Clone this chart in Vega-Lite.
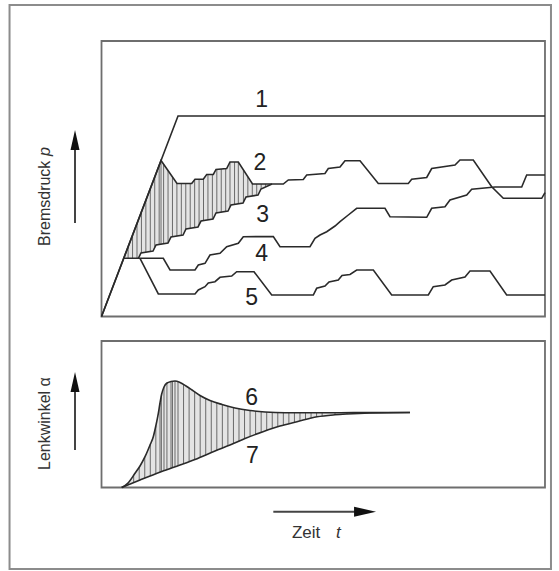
{
 "$schema": "https://vega.github.io/schema/vega-lite/v6.json",
 "width": 559, "height": 571,
 "autosize": {"type": "fit", "contains": "padding"},
 "padding": 0,
 "background": "white",
 "config": {"view": {"stroke": null}, "font": "Liberation Sans"},
 "datasets": {
  "topLines": [
   {"s":"1","t":0,"p":0},{"s":"1","t":17.25,"p":72.78},{"s":"1","t":100,"p":72.78},
   {"s":"2","t":0,"p":0},{"s":"2","t":13.42,"p":56.62},{"s":"2","t":17.02,"p":48.28},{"s":"2","t":20.34,"p":48.28},{"s":"2","t":21.08,"p":49.8},{"s":"2","t":22.95,"p":49.8},{"s":"2","t":23.72,"p":51.54},{"s":"2","t":25.21,"p":51.54},{"s":"2","t":25.82,"p":53.36},{"s":"2","t":28.23,"p":53.72},{"s":"2","t":28.97,"p":56.08},{"s":"2","t":30.85,"p":56.08},{"s":"2","t":34.05,"p":48.09},{"s":"2","t":40.99,"p":48.09},{"s":"2","t":42.12,"p":49.55},{"s":"2","t":45.5,"p":49.73},{"s":"2","t":46.27,"p":51.36},{"s":"2","t":50.39,"p":51.91},{"s":"2","t":51.14,"p":53.72},{"s":"2","t":53.78,"p":54.26},{"s":"2","t":54.9,"p":56.55},{"s":"2","t":58.29,"p":56.55},{"s":"2","t":62.41,"p":48.28},{"s":"2","t":69.18,"p":48.28},{"s":"2","t":69.94,"p":49.8},{"s":"2","t":73.33,"p":50.45},{"s":"2","t":74.45,"p":53.72},{"s":"2","t":79.71,"p":54.99},{"s":"2","t":80.83,"p":56.81},{"s":"2","t":83.83,"p":56.81},{"s":"2","t":87.98,"p":47.11},{"s":"2","t":90.6,"p":42.9},{"s":"2","t":99.26,"p":42.9},{"s":"2","t":100,"p":44.94},
   {"s":"3","t":8.3,"p":21.13},{"s":"3","t":8.91,"p":23.05},{"s":"3","t":11.61,"p":23.77},{"s":"3","t":12.29,"p":25.95},{"s":"3","t":14.99,"p":26.68},{"s":"3","t":15.67,"p":28.86},{"s":"3","t":18.38,"p":29.58},{"s":"3","t":19.05,"p":31.76},{"s":"3","t":21.76,"p":32.49},{"s":"3","t":22.44,"p":34.66},{"s":"3","t":25.14,"p":35.39},{"s":"3","t":25.82,"p":37.57},{"s":"3","t":28.52,"p":38.29},{"s":"3","t":29.2,"p":40.47},{"s":"3","t":31.91,"p":41.2},{"s":"3","t":32.58,"p":43.38},{"s":"3","t":35.29,"p":44.1},{"s":"3","t":35.96,"p":46.28},{"s":"3","t":38.44,"p":48.09},
   {"s":"4","t":5.01,"p":21.13},{"s":"4","t":13.93,"p":21.13},{"s":"4","t":15.45,"p":16.88},{"s":"4","t":21.08,"p":16.88},{"s":"4","t":21.83,"p":18.69},{"s":"4","t":23.34,"p":19.31},{"s":"4","t":24.46,"p":22.32},{"s":"4","t":26.72,"p":22.94},{"s":"4","t":28.23,"p":25.34},{"s":"4","t":30.85,"p":26.57},{"s":"4","t":31.97,"p":28.97},{"s":"4","t":38.74,"p":29.04},{"s":"4","t":40.25,"p":25.34},{"s":"4","t":47.01,"p":25.34},{"s":"4","t":48.14,"p":28.38},{"s":"4","t":49.27,"p":29.58},{"s":"4","t":50.78,"p":30.78},{"s":"4","t":52.65,"p":32.85},{"s":"4","t":53.78,"p":34.41},{"s":"4","t":55.65,"p":36.84},{"s":"4","t":57.54,"p":39.27},{"s":"4","t":63.92,"p":39.27},{"s":"4","t":65.05,"p":36.23},{"s":"4","t":73.33,"p":36.01},{"s":"4","t":74.45,"p":39.27},{"s":"4","t":77.45,"p":39.85},{"s":"4","t":78.58,"p":42.29},{"s":"4","t":82.35,"p":44.1},{"s":"4","t":83.47,"p":46.17},{"s":"4","t":88.73,"p":47.01},{"s":"4","t":94.75,"p":47.01},{"s":"4","t":95.87,"p":51.36},{"s":"4","t":100,"p":51.36},
   {"s":"5","t":8.68,"p":21.13},{"s":"5","t":12.81,"p":8.17},{"s":"5","t":21.08,"p":8.17},{"s":"5","t":21.83,"p":9.62},{"s":"5","t":23.34,"p":10.82},{"s":"5","t":24.08,"p":12.16},{"s":"5","t":25.59,"p":12.63},{"s":"5","t":26.72,"p":14.23},{"s":"5","t":29.36,"p":14.7},{"s":"5","t":30.48,"p":16.26},{"s":"5","t":34.39,"p":16.26},{"s":"5","t":38.38,"p":7.8},{"s":"5","t":47.76,"p":7.8},{"s":"5","t":48.52,"p":10.24},{"s":"5","t":50.39,"p":11.07},{"s":"5","t":51.3,"p":12.52},{"s":"5","t":53.39,"p":13.25},{"s":"5","t":54.23,"p":14.88},{"s":"5","t":56.03,"p":15.25},{"s":"5","t":57.54,"p":16.88},{"s":"5","t":61.29,"p":16.88},{"s":"5","t":65.43,"p":7.8},{"s":"5","t":73.69,"p":7.8},{"s":"5","t":74.81,"p":10.82},{"s":"5","t":77.45,"p":11.43},{"s":"5","t":78.96,"p":13.25},{"s":"5","t":81.96,"p":14.34},{"s":"5","t":83.09,"p":16.52},{"s":"5","t":87.6,"p":16.52},{"s":"5","t":91.36,"p":7.8},{"s":"5","t":100,"p":7.8}
  ],
  "topHatch": [
   {"t":5.01,"lo":21.13,"hi":21.13},{"t":6,"lo":21.13,"hi":25.31},{"t":7,"lo":21.13,"hi":29.53},{"t":8,"lo":21.13,"hi":33.75},{"t":9,"lo":23.07,"hi":37.97},{"t":10,"lo":23.34,"hi":42.19},{"t":11,"lo":23.61,"hi":46.41},{"t":12,"lo":25.02,"hi":50.63},{"t":13,"lo":26.14,"hi":54.85},{"t":13.42,"lo":26.25,"hi":56.62},{"t":14,"lo":26.41,"hi":55.28},{"t":15,"lo":26.71,"hi":52.96},{"t":16,"lo":28.95,"hi":50.64},{"t":17,"lo":29.22,"hi":48.33},{"t":18,"lo":29.48,"hi":48.28},{"t":19,"lo":31.6,"hi":48.28},{"t":20,"lo":32.02,"hi":48.28},{"t":21,"lo":32.29,"hi":49.64},{"t":22,"lo":33.26,"hi":49.8},{"t":23,"lo":34.81,"hi":49.91},{"t":24,"lo":35.09,"hi":51.54},{"t":25,"lo":35.35,"hi":51.54},{"t":26,"lo":37.62,"hi":53.39},{"t":27,"lo":37.88,"hi":53.54},{"t":28,"lo":38.15,"hi":53.69},{"t":28.97,"lo":39.73,"hi":56.08},{"t":30,"lo":40.69,"hi":56.08},{"t":30.85,"lo":40.91,"hi":56.08},{"t":32,"lo":41.49,"hi":53.21},{"t":33,"lo":43.49,"hi":50.71},{"t":34,"lo":43.76,"hi":48.21},{"t":35,"lo":44.02,"hi":48.09},{"t":36,"lo":46.31,"hi":48.09},{"t":37,"lo":47.04,"hi":48.09},{"t":38,"lo":47.77,"hi":48.09},{"t":38.44,"lo":48.09,"hi":48.09}
  ],
  "topLabels": [
   {"n":"1","t":36.12,"p":78.58},{"n":"2","t":35.74,"p":55.7},{"n":"3","t":36.35,"p":36.84},{"n":"4","t":36.12,"p":22.69},{"n":"5","t":33.87,"p":6.72}
  ],
  "botLines": [
   {"s":"6","t":4.55,"a":0},{"s":"6","t":5.98,"a":3.07},{"s":"6","t":7.55,"a":9.69},{"s":"6","t":8.68,"a":14.68},{"s":"6","t":9.81,"a":21.02},{"s":"6","t":10.94,"a":29.01},{"s":"6","t":11.68,"a":34.68},{"s":"6","t":12.29,"a":42.66},{"s":"6","t":12.81,"a":50.65},{"s":"6","t":13.19,"a":57.68},{"s":"6","t":13.57,"a":63.82},{"s":"6","t":14.09,"a":68.6},{"s":"6","t":14.77,"a":71.33},{"s":"6","t":15.67,"a":72.35},{"s":"6","t":16.57,"a":72.7},{"s":"6","t":17.7,"a":71.67},{"s":"6","t":19.05,"a":69.28},{"s":"6","t":20.41,"a":66.55},{"s":"6","t":22.21,"a":62.8},{"s":"6","t":24.46,"a":59.39},{"s":"6","t":27.17,"a":56.66},{"s":"6","t":30.1,"a":54.27},{"s":"6","t":33.48,"a":52.56},{"s":"6","t":36.87,"a":51.54},{"s":"6","t":41.38,"a":51.0},{"s":"6","t":47.01,"a":51.0},{"s":"6","t":53.78,"a":51.05},{"s":"6","t":60.54,"a":51.1},{"s":"6","t":69.56,"a":51.19},
   {"s":"7","t":4.55,"a":0},{"s":"7","t":8.68,"a":5.12},{"s":"7","t":13.57,"a":10.92},{"s":"7","t":17.7,"a":15.36},{"s":"7","t":21.08,"a":19.11},{"s":"7","t":25.59,"a":24.91},{"s":"7","t":28.97,"a":29.01},{"s":"7","t":32.36,"a":33.45},{"s":"7","t":36.41,"a":38.09},{"s":"7","t":40.25,"a":41.98},{"s":"7","t":44.08,"a":44.92},{"s":"7","t":48.59,"a":48.26},{"s":"7","t":52.65,"a":49.62},{"s":"7","t":55.36,"a":50.17},{"s":"7","t":60.54,"a":50.85},{"s":"7","t":69.56,"a":51.19}
  ],
  "botHatch": [
   {"t":4.55,"lo":0,"hi":0},{"t":6,"lo":1.8,"hi":3.15},{"t":7.25,"lo":3.35,"hi":8.42},{"t":8.5,"lo":4.9,"hi":13.88},{"t":9.75,"lo":6.39,"hi":20.68},{"t":11,"lo":7.87,"hi":29.47},{"t":12.25,"lo":9.36,"hi":42.14},{"t":13.19,"lo":10.47,"hi":57.68},{"t":13.5,"lo":10.84,"hi":62.69},{"t":14.09,"lo":11.48,"hi":68.6},{"t":14.75,"lo":12.19,"hi":71.25},{"t":15.67,"lo":13.18,"hi":72.35},{"t":16,"lo":13.53,"hi":72.48},{"t":16.57,"lo":14.15,"hi":72.7},{"t":17.25,"lo":14.88,"hi":72.08},{"t":18.5,"lo":16.27,"hi":70.25},{"t":19.75,"lo":17.66,"hi":67.87},{"t":21,"lo":19.02,"hi":65.32},{"t":22.25,"lo":20.61,"hi":62.74},{"t":23.5,"lo":22.22,"hi":60.85},{"t":24.75,"lo":23.83,"hi":59.1},{"t":26,"lo":25.41,"hi":57.84},{"t":27.25,"lo":26.93,"hi":56.59},{"t":28.5,"lo":28.44,"hi":55.58},{"t":29.75,"lo":30.03,"hi":54.56},{"t":31,"lo":31.67,"hi":53.81},{"t":32.25,"lo":33.31,"hi":53.18},{"t":33.5,"lo":34.76,"hi":52.55},{"t":34.75,"lo":36.19,"hi":52.18},{"t":36,"lo":37.62,"hi":51.8},{"t":37.25,"lo":38.94,"hi":51.49},{"t":38.5,"lo":40.21,"hi":51.34},{"t":39.75,"lo":41.47,"hi":51.2},{"t":41,"lo":42.56,"hi":51.05},{"t":42.25,"lo":43.51,"hi":51.0},{"t":43.5,"lo":44.47,"hi":51.0},{"t":44.75,"lo":45.42,"hi":51.0},{"t":46,"lo":46.34,"hi":51.0},{"t":47.25,"lo":47.27,"hi":51.0},{"t":48.5,"lo":48.19,"hi":51.0},{"t":49.75,"lo":48.65,"hi":51.0},{"t":52.65,"lo":49.62,"hi":51.03},{"t":55.36,"lo":50.17,"hi":51.06}
  ],
  "botLabels": [
   {"n":"6","t":33.87,"a":61.4},{"n":"7","t":34.0,"a":21.5}
  ]
 },
 "resolve": {"scale": {"y": "independent"}},
 "layer": [
  {
   "layer": [
    {"data": {"values": [{}]},
     "mark": {"type": "rect", "fill": null, "stroke": "#8c8c8c", "strokeWidth": 2},
     "encoding": {
      "x": {"datum": -20.74, "type": "quantitative", "scale": {"domain": [-22.89, 103.16], "nice": false, "zero": false}, "axis": null},
      "x2": {"datum": 101.35},
      "y": {"datum": -91.65, "type": "quantitative", "scale": {"domain": [-92.38, 114.88], "nice": false, "zero": false}, "axis": null},
      "y2": {"datum": 113.07}}},
    {"data": {"values": [{}]},
     "mark": {"type": "rect", "fill": null, "stroke": "#6e6e6e", "strokeWidth": 1.8},
     "encoding": {
      "x": {"datum": 0, "type": "quantitative", "scale": {"domain": [-22.89, 103.16], "nice": false, "zero": false}, "axis": null},
      "x2": {"datum": 100},
      "y": {"datum": 0, "type": "quantitative", "scale": {"domain": [-92.38, 114.88], "nice": false, "zero": false}, "axis": null},
      "y2": {"datum": 100}}},
    {"data": {"name": "topHatch"},
     "mark": {"type": "area", "fill": "#e4e4e4"},
     "encoding": {
      "x": {"field": "t", "type": "quantitative", "scale": {"domain": [-22.89, 103.16], "nice": false, "zero": false}, "axis": null},
      "y": {"field": "lo", "type": "quantitative", "scale": {"domain": [-92.38, 114.88], "nice": false, "zero": false}, "axis": null},
      "y2": {"field": "hi"}}},
    {"data": {"name": "topHatch"},
     "mark": {"type": "rule", "stroke": "#6a6a6a", "strokeWidth": 1},
     "encoding": {
      "x": {"field": "t", "type": "quantitative", "scale": {"domain": [-22.89, 103.16], "nice": false, "zero": false}, "axis": null},
      "y": {"field": "lo", "type": "quantitative", "scale": {"domain": [-92.38, 114.88], "nice": false, "zero": false}, "axis": null},
      "y2": {"field": "hi"}}},
    {"data": {"name": "topLines"},
     "mark": {"type": "line", "stroke": "#2a2a2a", "strokeWidth": 1.6},
     "encoding": {
      "x": {"field": "t", "type": "quantitative", "scale": {"domain": [-22.89, 103.16], "nice": false, "zero": false}, "axis": null},
      "y": {"field": "p", "type": "quantitative", "scale": {"domain": [-92.38, 114.88], "nice": false, "zero": false}, "axis": null},
      "detail": {"field": "s"}}},
    {"data": {"name": "topLabels"},
     "mark": {"type": "text", "fontSize": 23, "fill": "#222", "align": "center", "baseline": "middle"},
     "encoding": {
      "x": {"field": "t", "type": "quantitative", "scale": {"domain": [-22.89, 103.16], "nice": false, "zero": false}, "axis": null},
      "y": {"field": "p", "type": "quantitative", "scale": {"domain": [-92.38, 114.88], "nice": false, "zero": false}, "axis": null},
      "text": {"field": "n"}}},
    {"data": {"values": [{}]},
     "mark": {"type": "text", "text": "Bremsdruck", "fontSize": 16, "fill": "#333", "angle": 270, "align": "left", "baseline": "middle"},
     "encoding": {
      "x": {"datum": -12.74, "type": "quantitative", "scale": {"domain": [-22.89, 103.16], "nice": false, "zero": false}, "axis": null},
      "y": {"datum": 25.59, "type": "quantitative", "scale": {"domain": [-92.38, 114.88], "nice": false, "zero": false}, "axis": null}}},
    {"data": {"values": [{}]},
     "mark": {"type": "text", "text": "p", "fontSize": 16, "fontStyle": "italic", "fill": "#333", "angle": 270, "align": "left", "baseline": "middle"},
     "encoding": {
      "x": {"datum": -12.74, "type": "quantitative", "scale": {"domain": [-22.89, 103.16], "nice": false, "zero": false}, "axis": null},
      "y": {"datum": 58.26, "type": "quantitative", "scale": {"domain": [-92.38, 114.88], "nice": false, "zero": false}, "axis": null}}},
    {"data": {"values": [{}]},
     "mark": {"type": "rule", "stroke": "#444", "strokeWidth": 2},
     "encoding": {
      "x": {"datum": -5.975, "type": "quantitative", "scale": {"domain": [-22.89, 103.16], "nice": false, "zero": false}, "axis": null},
      "y": {"datum": 33.94, "type": "quantitative", "scale": {"domain": [-92.38, 114.88], "nice": false, "zero": false}, "axis": null},
      "y2": {"datum": 62.5}}},
    {"data": {"values": [{}]},
     "mark": {"type": "point", "shape": "M0,-1L0.45,1L-0.45,1Z", "size": 400, "filled": true, "fill": "#111", "opacity": 1, "strokeWidth": 0},
     "encoding": {
      "x": {"datum": -5.975, "type": "quantitative", "scale": {"domain": [-22.89, 103.16], "nice": false, "zero": false}, "axis": null},
      "y": {"datum": 64.07, "type": "quantitative", "scale": {"domain": [-92.38, 114.88], "nice": false, "zero": false}, "axis": null}}}
   ]
  },
  {
   "layer": [
    {"data": {"values": [{}]},
     "mark": {"type": "rect", "fill": null, "stroke": "#6e6e6e", "strokeWidth": 1.8},
     "encoding": {
      "x": {"datum": 0, "type": "quantitative", "scale": {"domain": [-22.89, 103.16], "nice": false, "zero": false}, "axis": null},
      "x2": {"datum": 100},
      "y": {"datum": 0, "type": "quantitative", "scale": {"domain": [-57.0, 332.76], "nice": false, "zero": false}, "axis": null},
      "y2": {"datum": 100}}},
    {"data": {"name": "botHatch"},
     "mark": {"type": "area", "fill": "#e4e4e4"},
     "encoding": {
      "x": {"field": "t", "type": "quantitative", "scale": {"domain": [-22.89, 103.16], "nice": false, "zero": false}, "axis": null},
      "y": {"field": "lo", "type": "quantitative", "scale": {"domain": [-57.0, 332.76], "nice": false, "zero": false}, "axis": null},
      "y2": {"field": "hi"}}},
    {"data": {"name": "botHatch"},
     "mark": {"type": "rule", "stroke": "#6a6a6a", "strokeWidth": 1},
     "encoding": {
      "x": {"field": "t", "type": "quantitative", "scale": {"domain": [-22.89, 103.16], "nice": false, "zero": false}, "axis": null},
      "y": {"field": "lo", "type": "quantitative", "scale": {"domain": [-57.0, 332.76], "nice": false, "zero": false}, "axis": null},
      "y2": {"field": "hi"}}},
    {"data": {"name": "botLines"},
     "mark": {"type": "line", "stroke": "#2a2a2a", "strokeWidth": 1.6, "interpolate": "monotone"},
     "encoding": {
      "x": {"field": "t", "type": "quantitative", "scale": {"domain": [-22.89, 103.16], "nice": false, "zero": false}, "axis": null},
      "y": {"field": "a", "type": "quantitative", "scale": {"domain": [-57.0, 332.76], "nice": false, "zero": false}, "axis": null},
      "detail": {"field": "s"}}},
    {"data": {"name": "botLabels"},
     "mark": {"type": "text", "fontSize": 23, "fill": "#222", "align": "center", "baseline": "middle"},
     "encoding": {
      "x": {"field": "t", "type": "quantitative", "scale": {"domain": [-22.89, 103.16], "nice": false, "zero": false}, "axis": null},
      "y": {"field": "a", "type": "quantitative", "scale": {"domain": [-57.0, 332.76], "nice": false, "zero": false}, "axis": null},
      "text": {"field": "n"}}},
    {"data": {"values": [{}]},
     "mark": {"type": "text", "text": "Lenkwinkel α", "fontSize": 16, "fill": "#333", "angle": 270, "align": "left", "baseline": "middle"},
     "encoding": {
      "x": {"datum": -12.74, "type": "quantitative", "scale": {"domain": [-22.89, 103.16], "nice": false, "zero": false}, "axis": null},
      "y": {"datum": 11.95, "type": "quantitative", "scale": {"domain": [-57.0, 332.76], "nice": false, "zero": false}, "axis": null}}},
    {"data": {"values": [{}]},
     "mark": {"type": "rule", "stroke": "#444", "strokeWidth": 2},
     "encoding": {
      "x": {"datum": -5.975, "type": "quantitative", "scale": {"domain": [-22.89, 103.16], "nice": false, "zero": false}, "axis": null},
      "y": {"datum": 25.6, "type": "quantitative", "scale": {"domain": [-57.0, 332.76], "nice": false, "zero": false}, "axis": null},
      "y2": {"datum": 70.5}}},
    {"data": {"values": [{}]},
     "mark": {"type": "point", "shape": "M0,-1L0.45,1L-0.45,1Z", "size": 400, "filled": true, "fill": "#111", "opacity": 1, "strokeWidth": 0},
     "encoding": {
      "x": {"datum": -5.975, "type": "quantitative", "scale": {"domain": [-22.89, 103.16], "nice": false, "zero": false}, "axis": null},
      "y": {"datum": 72.01, "type": "quantitative", "scale": {"domain": [-57.0, 332.76], "nice": false, "zero": false}, "axis": null}}},
    {"data": {"values": [{}]},
     "mark": {"type": "rule", "stroke": "#444", "strokeWidth": 2},
     "encoding": {
      "x": {"datum": 38.74, "type": "quantitative", "scale": {"domain": [-22.89, 103.16], "nice": false, "zero": false}, "axis": null},
      "x2": {"datum": 58.0},
      "y": {"datum": -16.52, "type": "quantitative", "scale": {"domain": [-57.0, 332.76], "nice": false, "zero": false}, "axis": null}}},
    {"data": {"values": [{}]},
     "mark": {"type": "point", "shape": "M1,0L-1,-0.45L-1,0.45Z", "size": 484, "filled": true, "fill": "#111", "opacity": 1, "strokeWidth": 0},
     "encoding": {
      "x": {"datum": 59.43, "type": "quantitative", "scale": {"domain": [-22.89, 103.16], "nice": false, "zero": false}, "axis": null},
      "y": {"datum": -16.52, "type": "quantitative", "scale": {"domain": [-57.0, 332.76], "nice": false, "zero": false}, "axis": null}}},
    {"data": {"values": [{}]},
     "mark": {"type": "text", "text": "Zeit", "fontSize": 17, "fill": "#333", "align": "left", "baseline": "middle"},
     "encoding": {
      "x": {"datum": 42.95, "type": "quantitative", "scale": {"domain": [-22.89, 103.16], "nice": false, "zero": false}, "axis": null},
      "y": {"datum": -31.06, "type": "quantitative", "scale": {"domain": [-57.0, 332.76], "nice": false, "zero": false}, "axis": null}}},
    {"data": {"values": [{}]},
     "mark": {"type": "text", "text": "t", "fontSize": 17, "fontStyle": "italic", "fill": "#333", "align": "left", "baseline": "middle"},
     "encoding": {
      "x": {"datum": 52.87, "type": "quantitative", "scale": {"domain": [-22.89, 103.16], "nice": false, "zero": false}, "axis": null},
      "y": {"datum": -31.06, "type": "quantitative", "scale": {"domain": [-57.0, 332.76], "nice": false, "zero": false}, "axis": null}}}
   ]
  }
 ]
}
